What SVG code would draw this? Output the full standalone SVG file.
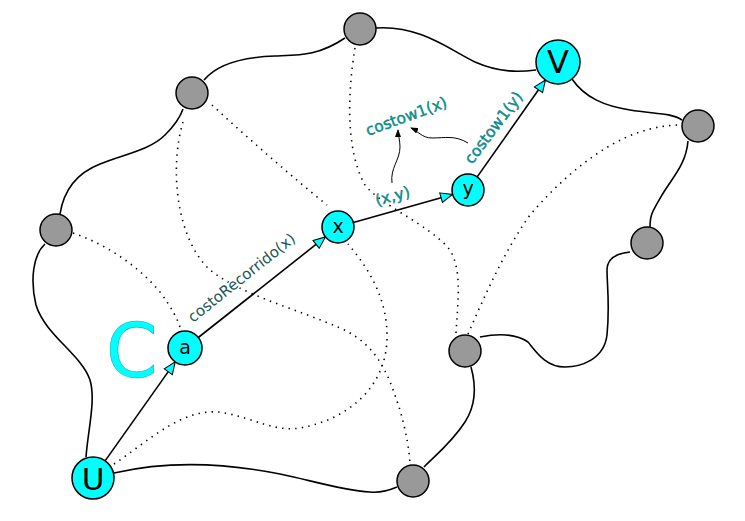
<svg xmlns="http://www.w3.org/2000/svg" width="745" height="521" viewBox="0 0 745 521">
<style>
.solid{fill:none;stroke:#000;stroke-width:1.6}
.dot{fill:none;stroke:#000;stroke-width:1.6;stroke-dasharray:1.4 5.2;stroke-linecap:butt}
.arr{fill:none;stroke:#000;stroke-width:1.6;marker-end:url(#ah)}
.ann{fill:none;stroke:#000;stroke-width:1;marker-end:url(#sh)}
.gray{fill:#999;stroke:#000;stroke-width:1.5}
.cyan{fill:#00ffff;stroke:#000;stroke-width:1.5}
.nl{font-family:"DejaVu Sans",sans-serif;fill:#000;text-anchor:middle}
.lbl{font-family:"DejaVu Sans",sans-serif;font-size:15.5px;fill:#00a3a3;stroke:#005a5a;stroke-width:0.35}
.lbl2{font-family:"DejaVu Sans",sans-serif;font-size:15px;fill:#1d5555;stroke:#fff;stroke-width:3;paint-order:stroke;stroke-linejoin:round}
</style>
<defs>
<marker id="ah" viewBox="0 0 14 12" refX="13" refY="6" markerWidth="14" markerHeight="12" markerUnits="userSpaceOnUse" orient="auto"><path d="M1,1 L13,6 L1,11 z" fill="#00ffff" stroke="#000" stroke-width="1"/></marker>
<marker id="sh" viewBox="0 0 8 6" refX="7" refY="3" markerWidth="8" markerHeight="6" markerUnits="userSpaceOnUse" orient="auto"><path d="M0,0 L8,3 L0,6 z" fill="#000"/></marker>
</defs>
<g id="connectors">
<path class="solid" d="M204,80 C218,63 245,57 275,56 C300,55 318,56 345,38"/>
<path class="solid" d="M376,28 C420,25 450,50 475,62 C500,73 520,72 536,70"/>
<path class="solid" d="M572,79 C585,98 605,106 630,110 C655,114 672,113 682,120"/>
<path class="solid" d="M688,141 C686,165 672,178 662,195 C652,212 650,215 650,227"/>
<path class="solid" d="M630,252 C620,253 607,256 607,270 C607,285 610,305 607,335 C604,360 580,367 565,367 C545,367 535,350 528,342 C515,333 495,334 480,337"/>
<path class="solid" d="M471,367 C476,385 476,405 465,422 C450,445 430,460 424,467"/>
<path class="solid" d="M397,487 C390,490 380,493 370,492 C340,490 310,480 280,474 C230,464 170,460 114,473"/>
<path class="solid" d="M86,457 C88,430 96,400 90,380 C82,355 45,335 36,305 C30,280 33,255 45,244"/>
<path class="solid" d="M60,214 C63,195 72,175 100,164 C125,154 150,150 165,135 C175,125 180,118 183,109"/>
<path class="dot" d="M212,105 C250,140 290,175 327,205"/>
<path class="dot" d="M183,122 C170,165 175,235 208,268 C235,293 300,310 340,328 C380,345 390,380 400,410 C407,435 409,450 410,463"/>
<path class="dot" d="M355,48 C348,90 345,150 365,185 C380,205 430,225 450,250 C462,270 458,300 456,333"/>
<path class="dot" d="M114,464 C150,440 185,405 225,413 C255,419 275,432 300,428 C345,420 385,390 387,340 C388,300 370,270 348,244"/>
<path class="dot" d="M73,233 C100,242 135,262 160,292 C172,308 178,320 181,330"/>
<path class="dot" d="M468,334 C485,295 505,250 530,215 C560,180 600,145 640,132 C655,127 668,125 681,125"/>
<path class="arr" d="M105.1,460.9 L175.2,361.9"/>
<path class="arr" d="M198.3,337.5 L325.5,236.9"/>
<path class="arr" d="M353.4,222.6 L452.6,194.4"/>
<path class="arr" d="M477.2,176.9 L545.4,80"/>
<path class="ann" d="M392,183 C390,168 400,160 400,147 C400,140 398,135 398,130"/>
<path class="ann" d="M468,143 C455,135 445,138 432,138 C422,138 418,131 411,128"/>
</g>
<g id="g1"><circle class="gray" cx="360" cy="29" r="16"/></g>
<g id="g2"><circle class="gray" cx="192" cy="93" r="16"/></g>
<g id="g3"><circle class="gray" cx="56" cy="230" r="16"/></g>
<g id="g4"><circle class="gray" cx="698" cy="126" r="16"/></g>
<g id="g5"><circle class="gray" cx="647" cy="243" r="16"/></g>
<g id="g6"><circle class="gray" cx="465" cy="351" r="16"/></g>
<g id="g7"><circle class="gray" cx="413" cy="481" r="16"/></g>
<g id="U"><circle class="cyan" cx="93" cy="478" r="21"/><text class="nl" x="93" y="490" font-size="31">U</text></g>
<g id="a"><circle class="cyan" cx="185" cy="348" r="17"/><text class="nl" x="185" y="354" font-size="19">a</text></g>
<g id="x"><circle class="cyan" cx="338" cy="227" r="16"/><text class="nl" x="338" y="233" font-size="19">x</text></g>
<g id="y"><circle class="cyan" cx="468" cy="190" r="16"/><text class="nl" x="468" y="195" font-size="19">y</text></g>
<g id="V"><circle class="cyan" cx="558" cy="62" r="22"/><text class="nl" x="558" y="73" font-size="32">V</text></g>
<g id="labels">
<text x="106" y="377" font-family="DejaVu Sans, sans-serif" font-size="74" fill="#00ffff" stroke="#00b5b5" stroke-width="0.6">C</text>
<text class="lbl2" transform="translate(193,323) rotate(-38.5)">costoRecorrido(x)</text>
<text class="lbl" transform="translate(368,136) rotate(-20)">costow1(x)</text>
<text class="lbl" transform="translate(472,165) rotate(-53)">costow1(y)</text>
<text class="lbl" transform="translate(377,206) rotate(-16)">(x,y)</text>
</g>
</svg>
